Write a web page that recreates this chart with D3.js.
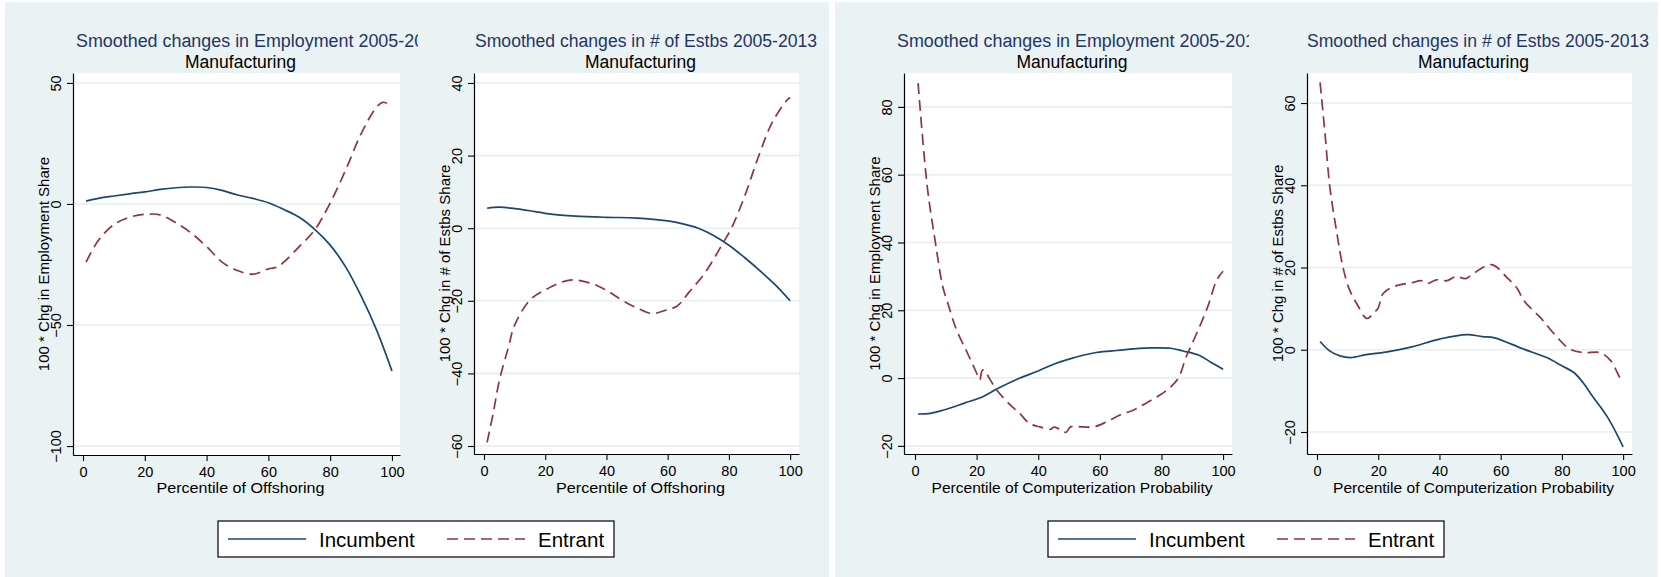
<!DOCTYPE html>
<html>
<head>
<meta charset="utf-8">
<script src="https://cdn.jsdelivr.net/npm/d3@7"></script>
<style>
  html, body { margin: 0; padding: 0; background: #ffffff; }
  svg { display: block; font-family: "Liberation Sans", Arial, Helvetica, sans-serif; }
</style>
</head>
<body>
<svg id="chart" width="1661" height="577"></svg>
<script>
// ---- Data: smoothed 100 * change in share, by percentile ----

// Employment vs. offshoring percentile
const empOffIncX = [1, 5, 10, 15, 20, 25, 30, 35, 40, 45, 50, 55, 60, 65, 70, 75, 80, 85, 90, 95, 100];
const empOffIncY = [1.2, 2.3, 3.3, 4.2, 5.0, 6.0, 6.7, 7.0, 6.8, 5.6, 3.7, 2.3, 0.5, -2.3, -5.5, -10.5, -17, -26, -38, -52, -69];
const empOffEntX = [1, 5, 10, 15, 20, 25, 30, 35, 40, 45, 50, 55, 60, 63, 65, 70, 75, 80, 85, 90, 95, 97, 100];
const empOffEntY = [-24, -15, -8.5, -5.5, -4.3, -4.5, -7.7, -12, -17.6, -24, -27.5, -29, -26.8, -26, -24, -17.6, -10.7, 0.4, 14, 29, 40, 42, 40.5];

// Establishments vs. offshoring percentile
const estOffIncX = [1, 5, 10, 15, 20, 25, 30, 40, 50, 60, 65, 70, 75, 80, 85, 90, 95, 100];
const estOffIncY = [5.5, 5.8, 5.4, 4.8, 4.1, 3.6, 3.3, 3.0, 2.8, 2.0, 1.2, 0, -2, -4.7, -8, -11.6, -15.5, -20];
const estOffEntX = [1, 3, 5, 8, 10, 15, 20, 28, 35, 40, 45, 50, 55, 60, 63, 67, 72, 78, 81, 85, 90, 94, 99, 100];
const estOffEntY = [-59, -51, -42, -32.7, -26.7, -19.8, -17, -14.3, -15.2, -17.1, -19.8, -22, -23.5, -22.4, -21.5, -17.6, -12.5, -4.2, 0.3, 8.5, 20.5, 28.9, 35.3, 36];

// Employment vs. computerization probability percentile
const empCompIncX = [1, 5, 9, 16, 22, 27, 34, 40, 45, 50, 58, 64, 71, 77, 83, 87, 92, 96, 100];
const empCompIncY = [-10.6, -10.4, -9.5, -7.4, -5.5, -3, 0, 2.1, 4.1, 5.6, 7.4, 8.0, 8.6, 8.9, 8.8, 8.0, 6.8, 4.7, 2.6];
const empCompEntX = [1, 4, 6.5, 9, 10.5, 13.5, 17, 20, 21, 22, 26.5, 31, 34, 37, 40.5, 44, 45, 47, 49, 50.5, 54.5, 58, 62, 66.5, 71, 75, 79.5, 83, 85.5, 88, 91.5, 95, 98, 100];
const empCompEntY = [87, 56.3, 40.7, 27, 22.5, 14.2, 7.4, 1.5, -0.5, 2.4, -3.5, -8, -10.4, -13.3, -14.4, -15.1, -14.5, -15.1, -16, -14.4, -14.4, -14.4, -13, -10.9, -9.4, -7.4, -5, -2.6, 0, 6.2, 13.3, 21, 29, 31.5];

// Establishments vs. computerization probability percentile
const estCompIncX = [1, 4, 7.5, 11, 16, 23, 31, 40, 49, 54, 58, 67, 75, 80, 84, 87, 90, 95, 100];
const estCompIncY = [2, -0.2, -1.5, -1.9, -1.2, -0.5, 0.7, 2.6, 3.7, 3.2, 2.9, 0.3, -1.9, -3.9, -5.6, -8.1, -11.3, -16.5, -23.6];
const estCompEntX = [1, 2.6, 4.2, 6.5, 8.5, 10.5, 13, 16.3, 18.3, 20, 21.6, 26, 31, 34, 36, 39, 42.5, 45.5, 48.5, 51, 57, 62, 65.5, 67.5, 73, 78.5, 82.5, 87, 92.5, 96, 99, 100];
const estCompEntY = [65, 52.7, 39.5, 28.3, 20, 14.8, 11.2, 7.6, 8.8, 10.2, 13.7, 15.6, 16.3, 16.8, 16.1, 17, 16.8, 17.8, 17.3, 18.5, 20.7, 17.6, 14.8, 12, 7.8, 3, 0.2, -0.7, -0.7, -2.7, -6.8, -7.5];

// Axis ticks and labels
const xTicks = [0, 20, 40, 60, 80, 100];
const empOffYTicks = [-100, -50, 0, 50];
const estOffYTicks = [-60, -40, -20, 0, 20, 40];
const empCompYTicks = [-20, 0, 20, 40, 60, 80];
const estCompYTicks = [-20, 0, 20, 40, 60];

const seriesNames = ["Incumbent", "Entrant"];
const empTitle = "Smoothed changes in Employment 2005-2013";
const estTitle = "Smoothed changes in # of Estbs 2005-2013";
const subTitle = "Manufacturing";
const offLabel = "Percentile of Offshoring";
const compLabel = "Percentile of Computerization Probability";
const empYLabel = "100 * Chg in Employment Share";
const estYLabel = "100 * Chg in # of Estbs Share";

// ---- Styling ----
const FIG_BG = "#eaf2f3";
const GRID = "#e6eef0";
const INC_COLOR = "#1a476f";
const ENT_COLOR = "#90353b";
const TITLE_COLOR = "#253565";
const DASH = "11,6";

const svg = d3.select("#chart");

// Two figure backgrounds, each holding two panels and a legend
const figures = [
  { x: 5, y: 2, w: 824, h: 575 },
  { x: 835, y: 2, w: 823, h: 575 }
];
svg.selectAll("rect.fig").data(figures).join("rect")
  .attr("class", "fig")
  .attr("x", d => d.x).attr("y", d => d.y)
  .attr("width", d => d.w).attr("height", d => d.h)
  .attr("fill", FIG_BG);

const panels = [
  { clip: [5, 418], plot: { l: 73, r: 400, t: 73, b: 455 }, xDom: [-3.24, 102.6], yDom: [-103.7, 54.1],
    yTicks: empOffYTicks, title: empTitle, titleX: 76, titleLen: 368,
    xLabel: offLabel, xLabelLen: 168, yLabel: empYLabel,
    inc: [empOffIncX, empOffIncY], ent: [empOffEntX, empOffEntY] },
  { clip: [418, 829], plot: { l: 474, r: 799, t: 73, b: 454 }, xDom: [-3.27, 102.9], yDom: [-62.2, 42.75],
    yTicks: estOffYTicks, title: estTitle, titleX: 475, titleLen: 342,
    xLabel: offLabel, xLabelLen: 169, yLabel: estYLabel,
    inc: [estOffIncX, estOffIncY], ent: [estOffEntX, estOffEntY] },
  { clip: [835, 1249], plot: { l: 904, r: 1232, t: 73, b: 454 }, xDom: [-3.57, 102.9], yDom: [-22.4, 90.0],
    yTicks: empCompYTicks, title: empTitle, titleX: 897, titleLen: 368,
    xLabel: compLabel, xLabelLen: 281, yLabel: empYLabel,
    inc: [empCompIncX, empCompIncY], ent: [empCompEntX, empCompEntY] },
  { clip: [1249, 1658], plot: { l: 1307, r: 1632, t: 73, b: 454 }, xDom: [-3.27, 102.9], yDom: [-25.35, 67.3],
    yTicks: estCompYTicks, title: estTitle, titleX: 1307, titleLen: 342,
    xLabel: compLabel, xLabelLen: 281, yLabel: estYLabel,
    inc: [estCompIncX, estCompIncY], ent: [estCompEntX, estCompEntY] }
];

const defs = svg.append("defs");

panels.forEach((p, i) => {
  const g = svg.append("g").attr("class", "panel");
  const P = p.plot;
  const x = d3.scaleLinear().domain(p.xDom).range([P.l, P.r]);
  const y = d3.scaleLinear().domain(p.yDom).range([P.b, P.t]);
  const cx = (P.l + P.r) / 2 + 4;

  // titles, clipped at the panel's half of the figure
  defs.append("clipPath").attr("id", "tclip" + i)
    .append("rect").attr("x", p.clip[0]).attr("y", 0)
    .attr("width", p.clip[1] - p.clip[0]).attr("height", 72);
  const tg = g.append("g").attr("clip-path", `url(#tclip${i})`);
  tg.append("text")
    .attr("x", p.titleX).attr("y", 47)
    .attr("font-size", 18).attr("fill", TITLE_COLOR)
    .attr("textLength", p.titleLen).attr("lengthAdjust", "spacingAndGlyphs")
    .text(p.title);
  tg.append("text")
    .attr("x", cx).attr("y", 68)
    .attr("text-anchor", "middle")
    .attr("font-size", 17.5).attr("fill", "#000")
    .text(subTitle);

  // plot area
  g.append("rect")
    .attr("x", P.l).attr("y", P.t)
    .attr("width", P.r - P.l).attr("height", P.b - P.t)
    .attr("fill", "#ffffff");

  // horizontal grid lines
  g.selectAll("line.grid").data(p.yTicks).join("line")
    .attr("class", "grid")
    .attr("x1", P.l).attr("x2", P.r)
    .attr("y1", d => y(d)).attr("y2", d => y(d))
    .attr("stroke", GRID).attr("stroke-width", 1.6);

  // x axis
  const xAxis = g.append("g")
    .attr("transform", `translate(0,${P.b})`)
    .call(d3.axisBottom(x).tickValues(xTicks).tickSize(6).tickSizeOuter(0).tickPadding(6));
  xAxis.select(".domain").attr("stroke", "#000").attr("stroke-width", 1.2);
  xAxis.selectAll(".tick line").attr("stroke", "#000").attr("stroke-width", 1.1);
  xAxis.selectAll(".tick text")
    .attr("font-size", 14.5).attr("font-family", "Liberation Sans, Arial, sans-serif")
    .attr("fill", "#000");

  // y axis with rotated labels
  const yAxis = g.append("g")
    .attr("transform", `translate(${P.l},0)`)
    .call(d3.axisLeft(y).tickValues(p.yTicks).tickSize(6).tickSizeOuter(0).tickFormat(d3.format("d")));
  yAxis.select(".domain").attr("stroke", "#000").attr("stroke-width", 1.2);
  yAxis.selectAll(".tick line").attr("stroke", "#000").attr("stroke-width", 1.1);
  yAxis.selectAll(".tick text")
    .attr("font-size", 14.5).attr("font-family", "Liberation Sans, Arial, sans-serif")
    .attr("fill", "#000")
    .attr("x", null).attr("dy", null)
    .attr("text-anchor", "middle")
    .attr("transform", "translate(-12,0) rotate(-90)");

  // axis titles
  g.append("text")
    .attr("x", cx).attr("y", 493)
    .attr("text-anchor", "middle")
    .attr("font-size", 15.5).attr("fill", "#000")
    .attr("textLength", p.xLabelLen).attr("lengthAdjust", "spacingAndGlyphs")
    .text(p.xLabel);
  g.append("text")
    .attr("transform", `translate(${P.l - 24},${(P.t + P.b) / 2}) rotate(-90)`)
    .attr("text-anchor", "middle")
    .attr("font-size", 15).attr("fill", "#000")
    .text(p.yLabel);

  // series lines
  const line = d3.line()
    .x(d => x(d[0])).y(d => y(d[1]))
    .curve(d3.curveCatmullRom.alpha(0.5));
  const incPts = d3.zip(p.inc[0], p.inc[1]);
  const entPts = d3.zip(p.ent[0], p.ent[1]);
  g.append("path").datum(incPts)
    .attr("d", line).attr("fill", "none")
    .attr("stroke", INC_COLOR).attr("stroke-width", 1.7);
  g.append("path").datum(entPts)
    .attr("d", line).attr("fill", "none")
    .attr("stroke", ENT_COLOR).attr("stroke-width", 1.7)
    .attr("stroke-dasharray", DASH);
});

// legends
figures.forEach(f => {
  const lg = svg.append("g").attr("class", "legend")
    .attr("transform", `translate(${f.x + 213},521)`);
  lg.append("rect")
    .attr("x", 0).attr("y", 0).attr("width", 396).attr("height", 36)
    .attr("fill", "#ffffff").attr("stroke", "#000").attr("stroke-width", 1.2);
  const items = [
    { name: seriesNames[0], color: INC_COLOR, dash: null, x0: 10 },
    { name: seriesNames[1], color: ENT_COLOR, dash: DASH, x0: 229 }
  ];
  items.forEach(it => {
    lg.append("line")
      .attr("x1", it.x0).attr("x2", it.x0 + 78)
      .attr("y1", 18).attr("y2", 18)
      .attr("stroke", it.color).attr("stroke-width", 1.7)
      .attr("stroke-dasharray", it.dash);
    lg.append("text")
      .attr("x", it.x0 + 91).attr("y", 26)
      .attr("font-size", 20.5).attr("fill", "#000")
      .text(it.name);
  });
});
</script>
</body>
</html>
